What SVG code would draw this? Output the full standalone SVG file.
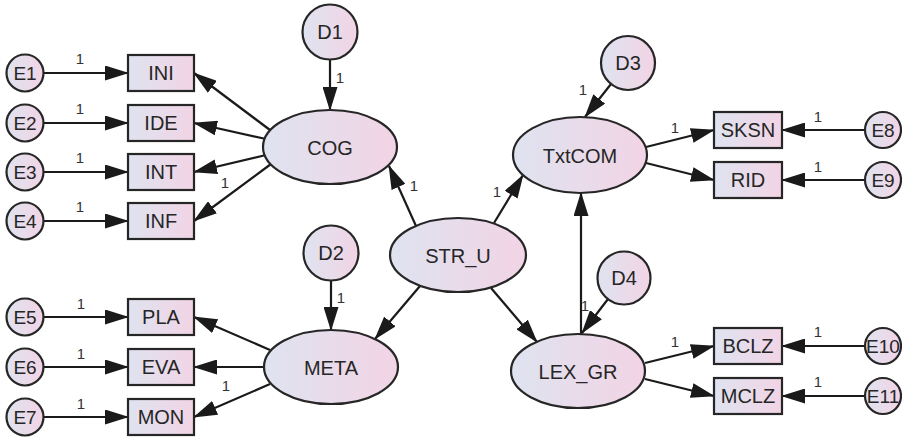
<svg xmlns="http://www.w3.org/2000/svg" width="902" height="439" viewBox="0 0 902 439">
<defs>
<linearGradient id="g" x1="0" y1="0" x2="1" y2="0">
<stop offset="0" stop-color="#dfe3f0"/>
<stop offset="1" stop-color="#f2d4e5"/>
</linearGradient>
<marker id="ah" markerWidth="24" markerHeight="15" refX="23" refY="7.5" orient="auto" markerUnits="userSpaceOnUse">
<path d="M0,0 L24,7.5 L0,15 z" fill="#1a1a1a"/>
</marker>
</defs>
<style>
.n{fill:url(#g);stroke:#262626;stroke-width:2.2}
.t{font-family:"Liberation Sans",Arial,sans-serif;font-size:20px;fill:#262626;text-anchor:middle;dominant-baseline:central}
.e{font-size:19px}
.l{font-family:"Liberation Sans",Arial,sans-serif;font-size:15px;fill:#333333;text-anchor:middle}
.c line{stroke:#1a1a1a;stroke-width:2.2;marker-end:url(#ah)}
</style>
<rect width="902" height="439" fill="#ffffff"/>

<g class="c" id="connectors">
<line x1="43" y1="73" x2="128" y2="73"/>
<line x1="43" y1="123" x2="128" y2="123"/>
<line x1="43" y1="172" x2="128" y2="172"/>
<line x1="43" y1="221" x2="128" y2="221"/>
<line x1="43" y1="317" x2="128" y2="317"/>
<line x1="43" y1="367" x2="128" y2="367"/>
<line x1="43" y1="417" x2="128" y2="417"/>
<line x1="270" y1="130" x2="194" y2="73"/>
<line x1="266" y1="139" x2="194" y2="123"/>
<line x1="266" y1="155" x2="194" y2="172"/>
<line x1="271" y1="164" x2="194" y2="221"/>
<line x1="270" y1="350" x2="194" y2="317"/>
<line x1="264" y1="367" x2="194" y2="367"/>
<line x1="270" y1="384" x2="194" y2="417"/>
<line x1="330" y1="60" x2="330" y2="110"/>
<line x1="331" y1="281" x2="331" y2="330"/>
<line x1="416" y1="226" x2="389" y2="166"/>
<line x1="494" y1="223" x2="523" y2="175"/>
<line x1="420" y1="286" x2="375" y2="339"/>
<line x1="491" y1="288" x2="537" y2="342"/>
<line x1="581" y1="334" x2="581" y2="193"/>
<line x1="611" y1="84" x2="585" y2="117"/>
<line x1="608" y1="299" x2="582" y2="333"/>
<line x1="646" y1="147" x2="714" y2="130"/>
<line x1="646" y1="163" x2="714" y2="180"/>
<line x1="645" y1="363" x2="714" y2="346"/>
<line x1="645" y1="379" x2="714" y2="396"/>
<line x1="865" y1="130" x2="782" y2="130"/>
<line x1="865" y1="180" x2="782" y2="180"/>
<line x1="865" y1="346" x2="782" y2="346"/>
<line x1="865" y1="396" x2="782" y2="396"/>
</g>

<g id="labels">
<text class="l" x="80" y="64">1</text>
<text class="l" x="80" y="114">1</text>
<text class="l" x="80" y="163">1</text>
<text class="l" x="80" y="212">1</text>
<text class="l" x="81" y="309">1</text>
<text class="l" x="81" y="359">1</text>
<text class="l" x="81" y="409">1</text>
<text class="l" x="225" y="188">1</text>
<text class="l" x="226" y="391">1</text>
<text class="l" x="340" y="83">1</text>
<text class="l" x="341" y="303">1</text>
<text class="l" x="414" y="191">1</text>
<text class="l" x="497" y="197">1</text>
<text class="l" x="583" y="95">1</text>
<text class="l" x="585" y="311">1</text>
<text class="l" x="675" y="133">1</text>
<text class="l" x="675" y="347">1</text>
<text class="l" x="818" y="122">1</text>
<text class="l" x="818" y="172">1</text>
<text class="l" x="818" y="337">1</text>
<text class="l" x="818" y="387">1</text>
</g>

<g id="E1"><circle class="n" cx="25" cy="73" r="18.5"/><text class="t e" x="25" y="73">E1</text></g>
<g id="E2"><circle class="n" cx="25" cy="123" r="18.5"/><text class="t e" x="25" y="123">E2</text></g>
<g id="E3"><circle class="n" cx="25" cy="172" r="18.5"/><text class="t e" x="25" y="172">E3</text></g>
<g id="E4"><circle class="n" cx="25" cy="221" r="18.5"/><text class="t e" x="25" y="221">E4</text></g>
<g id="E5"><circle class="n" cx="25" cy="317" r="18.5"/><text class="t e" x="25" y="317">E5</text></g>
<g id="E6"><circle class="n" cx="25" cy="367" r="18.5"/><text class="t e" x="25" y="367">E6</text></g>
<g id="E7"><circle class="n" cx="25" cy="417" r="18.5"/><text class="t e" x="25" y="417">E7</text></g>

<g id="INI"><rect class="n" x="128" y="55" width="66" height="36"/><text class="t" x="161" y="73">INI</text></g>
<g id="IDE"><rect class="n" x="128" y="105" width="66" height="36"/><text class="t" x="161" y="123">IDE</text></g>
<g id="INT"><rect class="n" x="128" y="154" width="66" height="36"/><text class="t" x="161" y="172">INT</text></g>
<g id="INF"><rect class="n" x="128" y="203" width="66" height="36"/><text class="t" x="161" y="221">INF</text></g>
<g id="PLA"><rect class="n" x="128" y="299" width="66" height="36"/><text class="t" x="161" y="317">PLA</text></g>
<g id="EVA"><rect class="n" x="128" y="349" width="66" height="36"/><text class="t" x="161" y="367">EVA</text></g>
<g id="MON"><rect class="n" x="128" y="399" width="66" height="36"/><text class="t" x="161" y="417">MON</text></g>

<g id="D1"><circle class="n" cx="330" cy="32" r="27.5"/><text class="t" x="330" y="32">D1</text></g>
<g id="D2"><circle class="n" cx="331" cy="253" r="27.5"/><text class="t" x="331" y="253">D2</text></g>
<g id="D3"><circle class="n" cx="628" cy="63" r="27"/><text class="t" x="628" y="63">D3</text></g>
<g id="D4"><circle class="n" cx="624" cy="278" r="26.5"/><text class="t" x="624" y="278">D4</text></g>

<g id="COG"><ellipse class="n" cx="330" cy="147" rx="67" ry="37"/><text class="t" x="330" y="148">COG</text></g>
<g id="META"><ellipse class="n" cx="331" cy="367" rx="67" ry="37"/><text class="t" x="331" y="368">META</text></g>
<g id="STR_U"><ellipse class="n" cx="458" cy="255" rx="68" ry="37"/><text class="t" x="458" y="256">STR_U</text></g>
<g id="TxtCOM"><ellipse class="n" cx="580" cy="155" rx="67" ry="38"/><text class="t" x="580" y="156">TxtCOM</text></g>
<g id="LEX_GR"><ellipse class="n" cx="578" cy="371" rx="67" ry="37"/><text class="t" x="578" y="372">LEX_GR</text></g>

<g id="SKSN"><rect class="n" x="714" y="112" width="68" height="36"/><text class="t" x="748" y="130">SKSN</text></g>
<g id="RID"><rect class="n" x="714" y="162" width="68" height="36"/><text class="t" x="748" y="180">RID</text></g>
<g id="BCLZ"><rect class="n" x="714" y="328" width="68" height="36"/><text class="t" x="748" y="346">BCLZ</text></g>
<g id="MCLZ"><rect class="n" x="714" y="378" width="68" height="36"/><text class="t" x="748" y="396">MCLZ</text></g>

<g id="E8"><circle class="n" cx="883" cy="130" r="18"/><text class="t e" x="883" y="130">E8</text></g>
<g id="E9"><circle class="n" cx="883" cy="180" r="18"/><text class="t e" x="883" y="180">E9</text></g>
<g id="E10"><circle class="n" cx="883" cy="346" r="18"/><text class="t e" x="883" y="346">E10</text></g>
<g id="E11"><circle class="n" cx="883" cy="396" r="18"/><text class="t e" x="883" y="396">E11</text></g>
</svg>
